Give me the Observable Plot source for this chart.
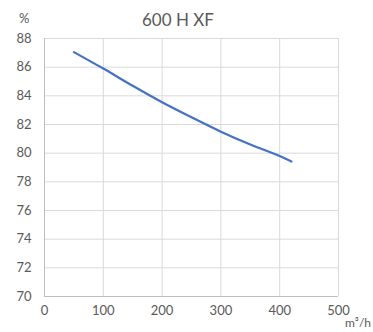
<!DOCTYPE html>
<html>
<head>
<meta charset="utf-8">
<script src="https://cdn.jsdelivr.net/npm/d3@7"></script>
<script src="https://cdn.jsdelivr.net/npm/@observablehq/plot@0.6"></script>
<style>
  html, body { margin: 0; padding: 0; background: #fff; }
  #wrap { position: relative; width: 373px; height: 332px; font-family: Lato, "Open Sans", sans-serif; color: #595959; }
  .lbl { position: absolute; white-space: nowrap; line-height: 1; }
</style>
</head>
<body>
<div id="wrap">
  <div class="lbl" style="left:142px;top:11px;font-size:17px;">600 H XF</div>
  <div class="lbl" style="left:19px;top:12px;font-size:13px;">%</div>
  <div class="lbl" style="left:345px;top:317px;font-size:12px;">m³/h</div>
</div>
<script>
const title = "600 H XF";
const flow = [50, 100, 150, 200, 250, 300, 350, 400, 420];
const efficiency = [87.05, 85.9, 84.7, 83.55, 82.5, 81.5, 80.6, 79.8, 79.42];
const xTicks = [0, 100, 200, 300, 400, 500];
const yTicks = [70, 72, 74, 76, 78, 80, 82, 84, 86, 88];

const data = flow.map((f, i) => ({ flow: f, eff: efficiency[i] }));

const chart = Plot.plot({
  width: 373,
  height: 332,
  marginLeft: 44,
  marginRight: 35,
  marginTop: 38,
  marginBottom: 36,
  style: { fontFamily: "Lato, 'Open Sans', sans-serif", fontSize: "13px", color: "#595959", background: "transparent" },
  x: { domain: [0, 500], ticks: xTicks, tickSize: 0, tickPadding: 9, label: null },
  y: { domain: [70, 88], ticks: yTicks, tickSize: 0, tickPadding: 13, label: null },
  marks: [
    Plot.gridX(xTicks, { stroke: "#d9d9d9", strokeOpacity: 1, strokeWidth: 1 }),
    Plot.gridY(yTicks, { stroke: "#d9d9d9", strokeOpacity: 1, strokeWidth: 1 }),
    Plot.ruleX([0], { stroke: "#bfbfbf", strokeWidth: 1 }),
    Plot.ruleY([70], { stroke: "#bfbfbf", strokeWidth: 1 }),
    Plot.axisX({ ticks: xTicks, tickSize: 0, tickPadding: 9, fill: "#595959", label: null }),
    Plot.axisY({ ticks: yTicks, tickSize: 0, tickPadding: 13, fill: "#595959", label: null }),
    Plot.line(data, { x: "flow", y: "eff", stroke: "#4472c4", strokeWidth: 2.25, curve: "monotone-x" })
  ]
});
chart.style.position = "absolute";
chart.style.left = "0";
chart.style.top = "0";
document.getElementById("wrap").prepend(chart);
</script>
</body>
</html>
